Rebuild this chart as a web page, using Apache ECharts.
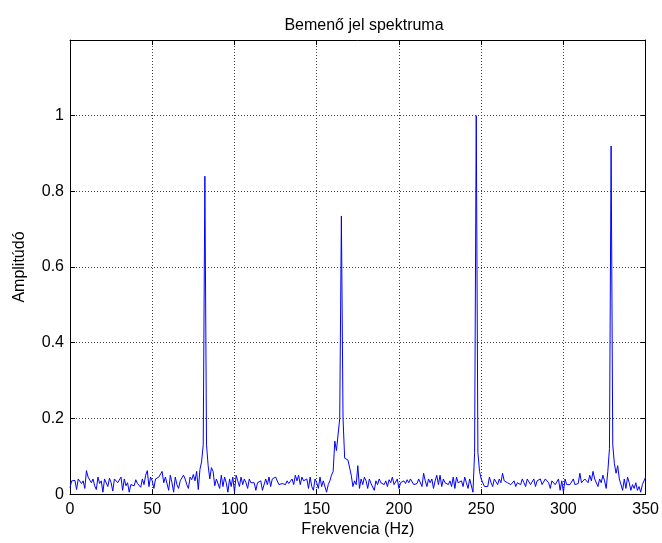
<!DOCTYPE html>
<html>
<head>
<meta charset="utf-8">
<script src="https://cdn.jsdelivr.net/npm/echarts@6/dist/echarts.min.js"></script>
<style>
html,body{margin:0;padding:0;background:#fff;overflow:hidden;width:100%;height:100%;}
#chart{width:100vw;height:100vh;}
</style>
</head>
<body>
<div id="chart"></div>
<script>
// Frequency step of the spectrum (Hz) and axis ticks
var freqStep = 1;
var xTicks = [0, 50, 100, 150, 200, 250, 300, 350];
var yTicks = [0, 0.2, 0.4, 0.6, 0.8, 1];

// Amplitudes, 0..49 Hz
var amp0 = [0.017,0.035,0.033,0.036,0.012,0.040,0.045,0.028,0.035,0.015,
            0.062,0.045,0.050,0.030,0.040,0.022,0.012,0.045,0.028,0.035,
            0.005,0.040,0.044,0.020,0.042,0.030,0.008,0.040,0.042,0.030,
            0.028,0.045,0.010,0.040,0.022,0.030,0.005,0.025,0.030,0.022,
            0.038,0.028,0.030,0.018,0.040,0.025,0.050,0.062,0.020,0.045];
// 50..99 Hz
var amp1 = [0.035,0.015,0.040,0.035,0.045,0.042,0.060,0.030,0.045,0.040,
            0.010,0.050,0.030,0.005,0.045,0.025,0.015,0.035,0.030,0.050,
            0.040,0.025,0.015,0.045,0.038,0.052,0.035,0.060,0.012,0.065,
            0.085,0.130,0.840,0.130,0.075,0.040,0.070,0.060,0.022,0.040,
            0.035,0.015,0.050,0.020,0.045,0.030,0.005,0.040,0.020,0.045];
// 100..149 Hz
var amp2 = [0.005,0.050,0.035,0.020,0.045,0.025,0.040,0.030,0.015,0.040,
            0.030,0.025,0.030,0.010,0.030,0.025,0.035,0.010,0.005,0.040,
            0.025,0.045,0.020,0.040,0.035,0.045,0.040,0.025,0.030,0.028,
            0.030,0.025,0.035,0.028,0.030,0.040,0.025,0.050,0.035,0.050,
            0.025,0.045,0.035,0.030,0.040,0.015,0.045,0.020,0.010,0.040];
// 150..199 Hz
var amp3 = [0.030,0.015,0.045,0.020,0.035,0.030,0.005,0.025,0.035,0.050,
            0.060,0.140,0.115,0.120,0.200,0.735,0.200,0.095,0.090,0.090,
            0.090,0.050,0.020,0.035,0.025,0.075,0.015,0.040,0.025,0.045,
            0.035,0.015,0.040,0.028,0.030,0.010,0.035,0.025,0.040,0.030,
            0.032,0.025,0.035,0.020,0.038,0.030,0.045,0.025,0.020,0.040];
// 200..249 Hz
var amp4 = [0.015,0.030,0.025,0.035,0.028,0.038,0.030,0.040,0.035,0.025,
            0.030,0.028,0.040,0.045,0.020,0.055,0.035,0.020,0.040,0.030,
            0.040,0.015,0.035,0.050,0.025,0.050,0.020,0.040,0.030,0.028,
            0.025,0.035,0.020,0.045,0.015,0.045,0.030,0.025,0.035,0.020,
            0.045,0.030,0.015,0.040,0.035,0.005,0.110,1.000,0.110,0.060];
// 250..299 Hz
var amp5 = [0.040,0.045,0.020,0.015,0.020,0.045,0.030,0.020,0.040,0.035,
            0.025,0.040,0.030,0.055,0.035,0.040,0.030,0.035,0.025,0.030,
            0.035,0.020,0.030,0.035,0.025,0.040,0.030,0.020,0.040,0.035,
            0.025,0.030,0.040,0.020,0.035,0.030,0.040,0.025,0.020,0.040,
            0.035,0.030,0.015,0.035,0.040,0.025,0.030,0.040,0.010,0.035];
// 300..350 Hz
var amp6 = [0.005,0.040,0.025,0.030,0.025,0.030,0.040,0.025,0.030,0.028,
            0.055,0.030,0.035,0.040,0.045,0.030,0.050,0.035,0.060,0.040,
            0.045,0.020,0.040,0.030,0.050,0.035,0.015,0.060,0.120,0.920,
            0.130,0.080,0.055,0.075,0.040,0.035,0.010,0.040,0.015,0.045,
            0.030,0.010,0.025,0.015,0.030,0.010,0.020,0.005,0.025,0.030,
            0.045];

var amps = [].concat(amp0, amp1, amp2, amp3, amp4, amp5, amp6);
var seriesData = amps.map(function (a, i) { return [i * freqStep, a]; });

var chart = echarts.init(document.getElementById('chart'), null, {renderer: 'canvas'});
var font = 'Liberation Sans, Arial, sans-serif';
var gridL = 70, gridR = 14, gridT = 40, gridB = 46;

function xAx(pos, show) {
  return {
    type: 'value', position: pos, min: xTicks[0], max: xTicks[xTicks.length - 1],
    interval: xTicks[1] - xTicks[0],
    axisLine: {show: true, onZero: false, lineStyle: {color: '#000', width: 1}},
    axisTick: {show: true, inside: true, length: 5, lineStyle: {color: '#000'}},
    axisLabel: {show: show, color: '#000', fontSize: 16, fontFamily: font, margin: 7},
    splitLine: {show: show, lineStyle: {color: '#444', type: [1, 2], width: 1}},
    name: show ? 'Frekvencia (Hz)' : '', nameLocation: 'middle', nameGap: 27,
    nameTextStyle: {color: '#000', fontSize: 16, fontFamily: font}
  };
}
function yAx(pos, show) {
  return {
    type: 'value', position: pos, min: 0, max: 1.2, interval: yTicks[1] - yTicks[0],
    axisLine: {show: true, onZero: false, lineStyle: {color: '#000', width: 1}},
    axisTick: {show: true, inside: true, length: 5, lineStyle: {color: '#000'}},
    axisLabel: {show: show, color: '#000', fontSize: 16, fontFamily: font, margin: 6,
      formatter: function (v) { return v > yTicks[yTicks.length - 1] + 1e-9 ? '' : String(+v.toFixed(1)); }},
    splitLine: {show: show, lineStyle: {color: '#444', type: [1, 2], width: 1}},
    name: show ? 'Amplitúdó' : '', nameLocation: 'middle', nameGap: 42,
    nameTextStyle: {color: '#000', fontSize: 16, fontFamily: font}
  };
}

chart.setOption({
  animation: false,
  backgroundColor: '#fff',
  title: {
    text: 'Bemenő jel spektruma',
    left: gridL + (662 - gridL - gridR) / 2, textAlign: 'center', top: 13,
    textStyle: {color: '#000', fontSize: 16, fontWeight: 'normal', fontFamily: font}
  },
  grid: {left: gridL, right: gridR, top: gridT, bottom: gridB, containLabel: false},
  xAxis: [xAx('bottom', true), xAx('top', false)],
  yAxis: [yAx('left', true), yAx('right', false)],
  series: [{
    type: 'line', data: seriesData, xAxisIndex: 0, yAxisIndex: 0,
    showSymbol: false, symbol: 'none',
    lineStyle: {color: '#0000ff', width: 1}
  }]
});
</script>
</body>
</html>
